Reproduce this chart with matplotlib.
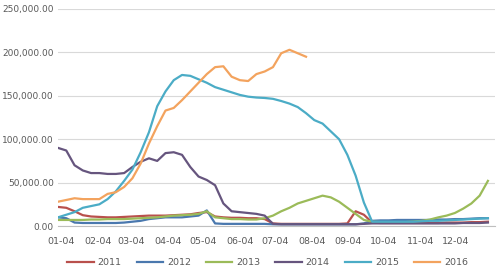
import numpy as np
import matplotlib
matplotlib.use('Agg')
import matplotlib.pyplot as plt

# dias do ano (amostragem semanal)
dias = [7 * i for i in range(53)]

# valores em milhares
v2011 = [22, 21, 17, 12.5, 11, 10.5, 10, 10, 10.5, 11, 11.5, 12, 12, 12, 12.5, 13, 13.5, 15, 16, 11,
         10, 9.5, 9.5, 9, 9, 8, 3, 2.5, 2.5, 2.5, 2.5, 2.5, 2.5, 2.5, 2.5, 3, 17, 13, 4, 3.5,
         3.5, 3.5, 3.5, 3.5, 3.5, 3.5, 3.5, 4, 4, 4, 4.5, 4.5, 5]
v2012 = [10, 9, 4, 3.5, 3.5, 3.5, 3.5, 3.5, 4, 5, 6, 8, 9, 10, 10, 10, 11, 12, 18, 3,
         2.5, 2.5, 2.5, 2.5, 2.5, 2.5, 2, 2, 2, 2, 2, 2, 2, 2, 2, 2, 2, 3, 6, 6.5,
         6.5, 7, 7, 7, 7, 7, 7.5, 7.5, 8, 8, 8.5, 9, 9]
v2013 = [7, 7, 7, 7, 7.5, 7.5, 8, 8, 8, 8.5, 9, 9.5, 10, 11, 12, 12.5, 13, 14, 17, 10,
         9, 8, 8, 7.5, 7.5, 9, 12, 17, 21, 26, 29, 32, 35, 33, 28, 21, 14, 7, 5, 4.5,
         4.5, 4.5, 4.5, 5, 6, 7.5, 10, 12, 15, 20, 26, 35, 52]
v2014 = [90, 87, 70, 64, 61, 61, 60, 60, 61, 68, 74, 78, 75, 84, 85, 82, 68, 57, 53, 47,
         26, 17, 16, 15, 14, 12, 2.5, 2, 2, 2, 2, 2, 2, 2, 2, 2, 2, 2.5, 3, 3,
         3, 3, 3, 3, 3, 3, 3, 3, 3, 3.5, 3.5, 3.5, 4]
v2015 = [10, 13, 16, 21, 23, 25, 31, 40, 52, 65, 85, 108, 138, 155, 168, 174, 173, 169, 165, 160,
         157, 154, 151, 149, 148, 147.5, 146.5, 144, 141, 137, 130, 122, 118, 109, 100, 82, 58, 27, 5, 5,
         5, 5, 5, 5, 5.5, 6, 6, 6.5, 7, 7.5, 8, 8.5, 9]
v2016 = [28, 30, 32, 31, 31, 31, 37, 39, 45, 55, 72, 95, 115, 133, 136, 145, 155, 165, 175, 183,
         184, 172, 168, 167, 175, 178, 183, 199, 203, 199, 195]

series = [('2011', v2011, '#B9504C'),
          ('2012', v2012, '#4A78AE'),
          ('2013', v2013, '#9BBB59'),
          ('2014', v2014, '#66557E'),
          ('2015', v2015, '#4BACC6'),
          ('2016', v2016, '#F3A35E')]

meses = ['01-04', '02-04', '03-04', '04-04', '05-04', '06-04',
         '07-04', '08-04', '09-04', '10-04', '11-04', '12-04']
dias_meses = [3, 34, 62, 93, 123, 154, 184, 215, 246, 276, 307, 337]

fig = plt.figure(figsize=(5, 2.72), dpi=100)
ax = fig.add_axes([0.116, 0.169, 0.874, 0.798])

for nome, vals, cor in series:
    y = np.array(vals) * 1000
    ax.plot(dias[:len(y)], y, color=cor, lw=1.6, label=nome)

ax.set_xlim(0, 370)
ax.set_ylim(0, 250000)
ax.set_yticks(range(0, 250001, 50000))
ax.set_yticklabels(['{:,.2f}'.format(v) for v in range(0, 250001, 50000)])
ax.set_xticks(dias_meses)
ax.set_xticklabels(meses)
ax.grid(axis='y', color='#D9D9D9', lw=0.8)
ax.set_axisbelow(True)
for s in ['top', 'right', 'left']:
    ax.spines[s].set_visible(False)
ax.spines['bottom'].set_color('#BFBFBF')
ax.tick_params(axis='y', length=0, labelsize=6.5, colors='#595959', pad=3)
ax.tick_params(axis='x', length=0, labelsize=6.8, colors='#595959', pad=8)

ax.legend(loc='upper center', bbox_to_anchor=(0.48, -0.11), ncol=6, frameon=False,
          fontsize=6.8, handlelength=2.8, columnspacing=1.6, handletextpad=0.4,
          labelcolor='#595959')

fig.savefig('out.png', dpi=100)
